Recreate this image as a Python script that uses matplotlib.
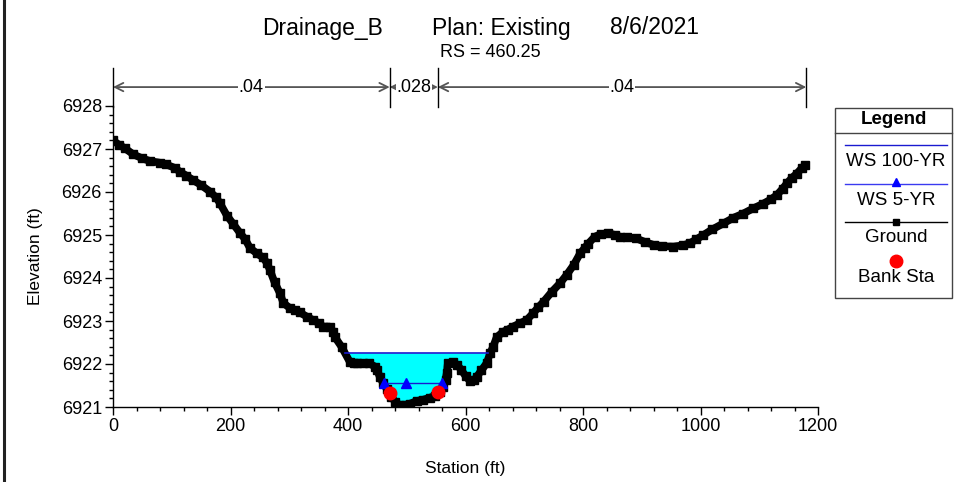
import numpy as np
import matplotlib
matplotlib.use("Agg")
import matplotlib.pyplot as plt
from matplotlib.lines import Line2D
from matplotlib.patches import Rectangle

plt.rcParams['font.family'] = ['Liberation Sans', 'DejaVu Sans']

# ---------------- data ----------------
ground_sta = [0, 10, 20, 34, 50, 63, 80, 91, 105, 114, 125, 136, 150, 165, 175, 182,
              194, 205, 216, 225, 233, 245, 255, 262, 267, 275, 284, 290, 301, 310,
              318, 330, 341, 350, 358, 369, 375, 378, 389, 403, 410, 415, 425, 435,
              446, 450, 454, 460, 466, 474, 480, 488, 497, 506, 517, 528, 540, 548,
              556, 562, 566, 568, 570, 579, 586, 593, 600, 608, 614, 619, 627, 636,
              642, 647, 653, 664, 672, 681, 693, 704, 715, 724, 733, 747, 761, 772,
              784, 795, 803, 809, 820, 830, 843, 855, 863, 875, 891, 905, 920, 935,
              954, 970, 982, 993, 1005, 1020, 1039, 1056, 1073, 1090, 1107, 1120,
              1130, 1140, 1147, 1155, 1164, 1172, 1178]
ground_elev = [6927.20, 6927.10, 6927.02, 6926.88, 6926.78, 6926.72, 6926.68, 6926.64,
               6926.56, 6926.47, 6926.38, 6926.28, 6926.16, 6926.01, 6925.88, 6925.74,
               6925.45, 6925.25, 6925.05, 6924.90, 6924.70, 6924.57, 6924.48, 6924.35,
               6924.19, 6923.90, 6923.65, 6923.42, 6923.30, 6923.25, 6923.20, 6923.10,
               6923.02, 6922.95, 6922.87, 6922.87, 6922.75, 6922.62, 6922.40, 6922.05,
               6922.02, 6922.03, 6922.02, 6922.02, 6921.94, 6921.85, 6921.70, 6921.55,
               6921.42, 6921.24, 6921.12, 6921.05, 6921.05, 6921.08, 6921.14, 6921.17,
               6921.22, 6921.26, 6921.35, 6921.47, 6921.62, 6921.78, 6922.02, 6922.05,
               6921.98, 6921.86, 6921.72, 6921.60, 6921.62, 6921.70, 6921.85, 6922.02,
               6922.25, 6922.40, 6922.62, 6922.75, 6922.80, 6922.87, 6922.95, 6923.02,
               6923.18, 6923.32, 6923.45, 6923.68, 6923.88, 6924.07, 6924.30, 6924.57,
               6924.70, 6924.80, 6924.96, 6925.02, 6925.04, 6925.00, 6924.96, 6924.95,
               6924.92, 6924.84, 6924.77, 6924.74, 6924.73, 6924.76, 6924.81, 6924.90,
               6925.00, 6925.13, 6925.27, 6925.40, 6925.50, 6925.62, 6925.73, 6925.83,
               6925.93, 6926.08, 6926.20, 6926.32, 6926.43, 6926.55, 6926.63]

ws100_elev = 6922.26
ws100_sta = [395, 638]
ws5_elev = 6921.55
ws5_sta = [461, 499, 560]

bank_sta = [471, 553]
bank_elev = [6921.32, 6921.36]

n_breaks = [0, 471, 553, 1180]
n_values = ['.04', '.028', '.04']

x_ticks = [0, 200, 400, 600, 800, 1000, 1200]
y_ticks = [6921, 6922, 6923, 6924, 6925, 6926, 6927, 6928]

title_parts = ['Drainage_B', 'Plan: Existing', '8/6/2021']
subtitle = 'RS = 460.25'
legend_labels = ['WS 100-YR', 'WS 5-YR', 'Ground', 'Bank Sta']

# ---------------- figure ----------------
W, H = 955, 482
fig = plt.figure(figsize=(W / 100, H / 100), dpi=100)

def fx(px):
    return px / W

def fy(py):
    return 1 - py / H

ax = fig.add_axes([fx(113), fy(407), (818 - 113) / W, (407 - 106) / H])
ax.set_xlim(0, 1200)
ax.set_ylim(6921, 6928)

gs = np.array(ground_sta, float)
ge = np.array(ground_elev, float)

# water fill for WS 100-YR
ax.fill_between(gs, ge, ws100_elev, where=(ge < ws100_elev) & (gs > 380) & (gs < 660),
                interpolate=True, color='#00ffff', lw=0, zorder=1)

ax.plot(gs, ge, color='black', lw=5.5, solid_joinstyle='round', solid_capstyle='round',
        marker='s', ms=6, mfc='black', mec='black', zorder=3)

ax.plot(ws100_sta, [ws100_elev] * 2, color='#1a1ad0', lw=1.2, zorder=4)
ax.plot(ws5_sta, [ws5_elev] * len(ws5_sta), color='#1a1ad0', lw=1.0, zorder=4,
        marker='^', ms=7.5, mfc='#0000ff', mec='#0000ff')

ax.plot(bank_sta, bank_elev, linestyle='none', marker='o', ms=9, mfc='#ff0000',
        mec='#ff0000', zorder=5)

# axes styling
for s in ['top', 'right']:
    ax.spines[s].set_visible(False)
for s in ['left', 'bottom']:
    ax.spines[s].set_color('black')
    ax.spines[s].set_linewidth(1.0)
ax.set_xticks(x_ticks)
ax.set_yticks(y_ticks)
ax.set_xticks(np.arange(0, 1201, 40), minor=True)
ax.set_yticks(np.arange(6921, 6928.01, 0.2), minor=True)
ax.tick_params(axis='both', which='major', direction='out', length=6, width=1,
               labelsize=13, colors='black', pad=2)
ax.tick_params(axis='both', which='minor', direction='out', length=3, width=1)
ax.set_xlabel('Station (ft)', fontsize=12.5, labelpad=19)
ax.set_ylabel('Elevation (ft)', fontsize=12.5, labelpad=13)

# Manning's n brackets
y_top, y_bot, y_arr = 6928.88, 6927.98, 6928.44
for b in n_breaks:
    ax.plot([b, b], [y_bot, y_top], color='black', lw=1, clip_on=False, zorder=5)
for i, lab in enumerate(n_values):
    a, b = n_breaks[i], n_breaks[i + 1]
    ax.annotate('', xy=(b, y_arr), xytext=(a, y_arr), annotation_clip=False,
                arrowprops=dict(arrowstyle='<->,head_length=0.6,head_width=0.3',
                                color='#555555', lw=1.3, shrinkA=0, shrinkB=0))
    ax.text((a + b) / 2, y_arr, lab, ha='center', va='center', fontsize=13,
            clip_on=False, bbox=dict(facecolor='white', edgecolor='none', pad=0.5))

# titles
fig.text(fx(262), fy(28), title_parts[0], ha='left', va='center', fontsize=16.5)
fig.text(fx(432), fy(28), title_parts[1], ha='left', va='center', fontsize=16.5)
fig.text(fx(610), fy(28), title_parts[2], ha='left', va='center', fontsize=16.5)
fig.text(fx(490), fy(52), subtitle, ha='center', va='center', fontsize=13)

# left border
fig.add_artist(Line2D([fx(4), fx(4)], [0, 1], color='#222222', lw=2.2))

# legend (manual box)
lx0, lx1, ly0, ly1 = 835, 952, 108, 298
fig.add_artist(Rectangle((fx(lx0), fy(ly1)), (lx1 - lx0) / W, (ly1 - ly0) / H,
                         facecolor='white', edgecolor='#444444', lw=1.0))
fig.add_artist(Line2D([fx(lx0), fx(lx1)], [fy(133), fy(133)], color='#444444', lw=1.0))
fig.text(fx(894), fy(119), 'Legend', ha='center', va='center', fontsize=13.5,
         fontweight='bold')
cx = 896
fig.add_artist(Line2D([fx(845), fx(947)], [fy(145), fy(145)], color='#1a1ad0', lw=1.0))
fig.text(fx(cx), fy(162), legend_labels[0], ha='center', va='center', fontsize=13.5)
fig.add_artist(Line2D([fx(845), fx(947)], [fy(184), fy(184)], color='#3a3af0', lw=1.0))
fig.add_artist(Line2D([fx(cx)], [fy(182)], marker='^', ms=6, color='#0000ff', lw=0))
fig.text(fx(cx), fy(200), legend_labels[1], ha='center', va='center', fontsize=13.5)
fig.add_artist(Line2D([fx(845), fx(947)], [fy(222), fy(222)], color='black', lw=1.0))
fig.add_artist(Line2D([fx(cx)], [fy(222)], marker='s', ms=5, color='black', lw=0))
fig.text(fx(cx), fy(238), legend_labels[2], ha='center', va='center', fontsize=13.5)
fig.add_artist(Line2D([fx(cx)], [fy(261)], marker='o', ms=9, color='#ff0000', lw=0))
fig.text(fx(cx), fy(277), legend_labels[3], ha='center', va='center', fontsize=13.5)

fig.savefig('out.png', dpi=100)
